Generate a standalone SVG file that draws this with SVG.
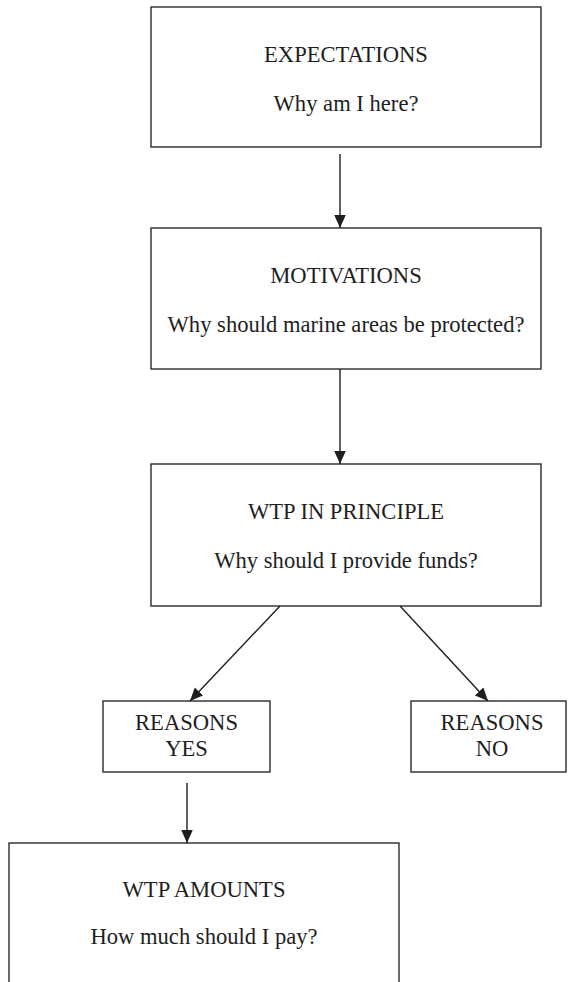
<svg xmlns="http://www.w3.org/2000/svg" width="568" height="982" viewBox="0 0 568 982">
<style>
.box{fill:#fff;stroke:#2a2a2a;stroke-width:1.4}
.t{font-family:"Liberation Serif","Times New Roman",serif;font-size:22.6px;fill:#1e1e1e;text-anchor:middle}
.c{stroke:#1e1e1e;stroke-width:1.4;fill:none;marker-end:url(#ah)}
</style>
<defs>
<marker id="ah" markerUnits="userSpaceOnUse" markerWidth="14" markerHeight="12" refX="13" refY="5.75" orient="auto">
<path d="M0,0 L13,5.75 L0,11.5 z" fill="#1e1e1e"/>
</marker>
</defs>
<rect width="568" height="982" fill="#fff"/>
<g id="expectations">
<rect class="box" x="151" y="7" width="390" height="140"/>
<text class="t" x="346" y="62">EXPECTATIONS</text>
<text class="t" x="346" y="111">Why am I here?</text>
</g>
<g id="motivations">
<rect class="box" x="151" y="228" width="390" height="141"/>
<text class="t" x="346" y="283">MOTIVATIONS</text>
<text class="t" x="346" y="332">Why should marine areas be protected?</text>
</g>
<g id="wtp-principle">
<rect class="box" x="151" y="464" width="390" height="142"/>
<text class="t" x="346" y="519">WTP IN PRINCIPLE</text>
<text class="t" x="346" y="568">Why should I provide funds?</text>
</g>
<g id="reasons-yes">
<rect class="box" x="103" y="701" width="167" height="71"/>
<text class="t" x="186.5" y="730">REASONS</text>
<text class="t" x="186.5" y="756">YES</text>
</g>
<g id="reasons-no">
<rect class="box" x="411" y="701" width="155" height="71"/>
<text class="t" x="492" y="730">REASONS</text>
<text class="t" x="492" y="756">NO</text>
</g>
<g id="wtp-amounts">
<rect class="box" x="9" y="843" width="390" height="160"/>
<text class="t" x="204" y="897">WTP AMOUNTS</text>
<text class="t" x="204" y="944">How much should I pay?</text>
</g>
<g id="connectors">
<line class="c" x1="340" y1="154" x2="340" y2="228"/>
<line class="c" x1="340" y1="369" x2="340" y2="464"/>
<line class="c" x1="280" y1="606" x2="190" y2="701"/>
<line class="c" x1="400" y1="606" x2="488" y2="701"/>
<line class="c" x1="187" y1="783" x2="187" y2="843"/>
</g>
</svg>
